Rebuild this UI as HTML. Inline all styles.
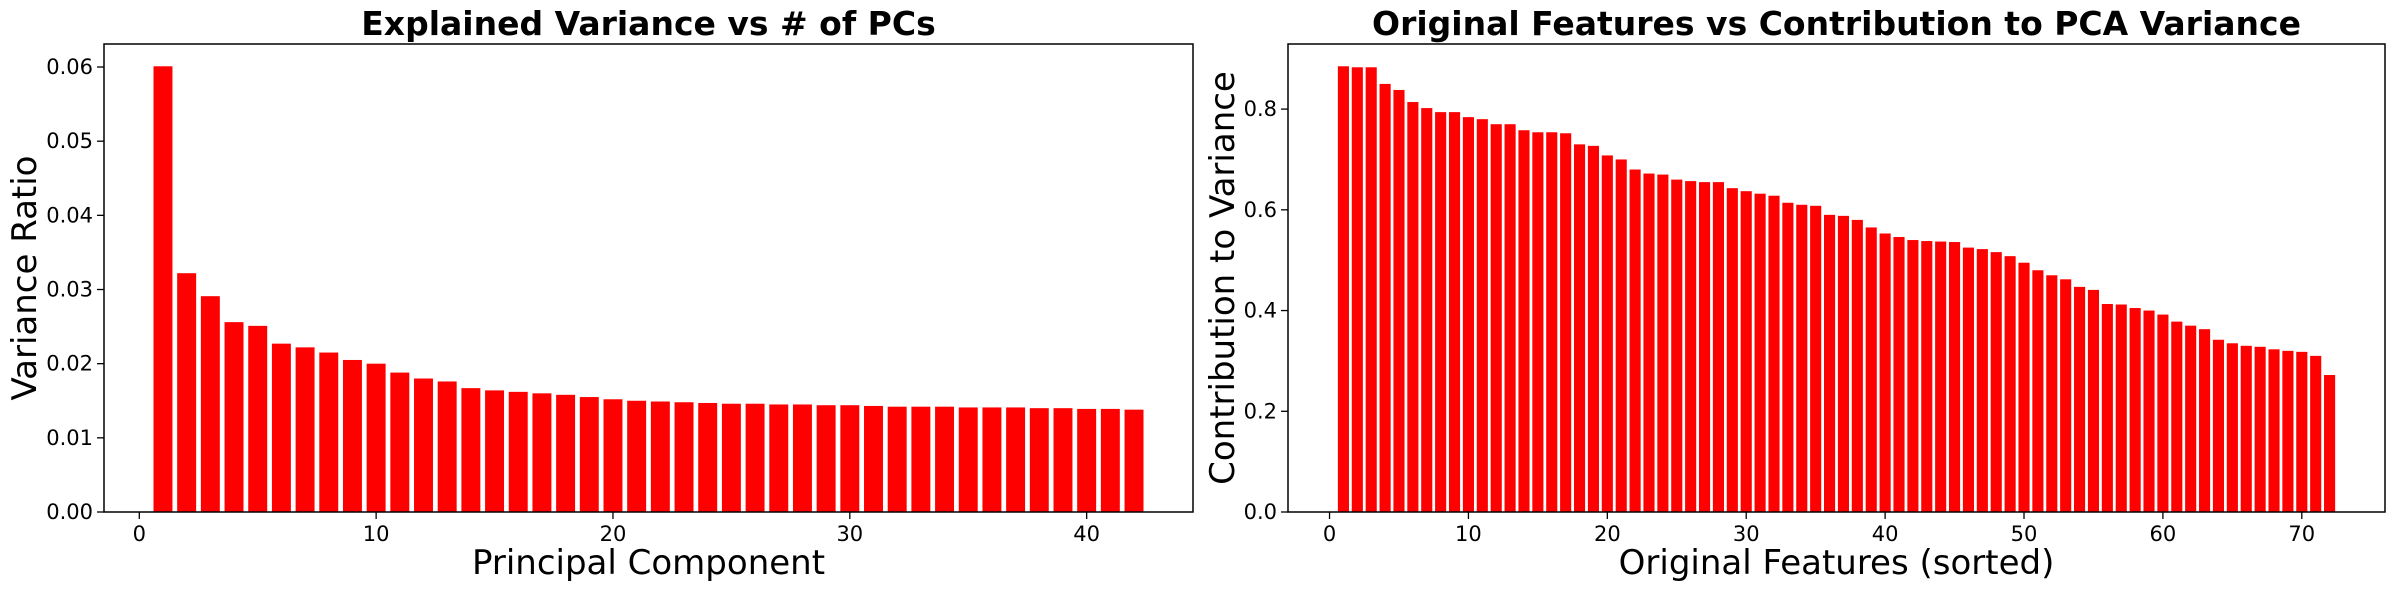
<!DOCTYPE html>
<html><head><meta charset="utf-8"><style>
html,body{margin:0;padding:0;background:#fff}
svg{display:block;font-family:"DejaVu Sans","Liberation Sans",sans-serif}
</style></head><body>
<svg id="c" width="2390" height="590" viewBox="0 0 2390 590"></svg>
<script>
const leftCats = Array.from({length:42},(_, i)=>i+1);
const leftValues = [0.0601,0.0322,0.0291,0.0256,0.0251,0.0227,0.0222,0.0215,0.0205,0.0200,0.0188,0.0180,0.0176,0.0167,0.0164,0.0162,0.0160,0.0158,0.0155,0.0152,0.0150,0.0149,0.0148,0.0147,0.0146,0.0146,0.0145,0.0145,0.0144,0.0144,0.0143,0.0142,0.0142,0.0142,0.0141,0.0141,0.0141,0.0140,0.0140,0.0139,0.0139,0.0138];
const leftYTicks = [0,0.01,0.02,0.03,0.04,0.05,0.06];
const leftYTickLabels = ["0.00","0.01","0.02","0.03","0.04","0.05","0.06"];
const leftXTicks = [0,10,20,30,40];
const rightCats = Array.from({length:72},(_, i)=>i+1);
const rightValues = [0.885,0.883,0.883,0.850,0.838,0.814,0.802,0.794,0.794,0.784,0.780,0.770,0.770,0.758,0.754,0.754,0.752,0.730,0.727,0.708,0.700,0.680,0.672,0.670,0.660,0.657,0.655,0.655,0.643,0.637,0.632,0.628,0.614,0.610,0.608,0.590,0.588,0.580,0.565,0.553,0.546,0.540,0.538,0.537,0.536,0.525,0.522,0.516,0.508,0.495,0.480,0.470,0.462,0.447,0.441,0.413,0.412,0.405,0.400,0.392,0.378,0.370,0.363,0.342,0.335,0.330,0.328,0.323,0.320,0.318,0.310,0.272];
const rightYTicks = [0,0.2,0.4,0.6,0.8];
const rightYTickLabels = ["0.0","0.2","0.4","0.6","0.8"];
const rightXTicks = [0,10,20,30,40,50,60,70];

const NS="http://www.w3.org/2000/svg";
const svg=document.getElementById('c');
function mk(tag,attrs,parent,text){const e=document.createElementNS(NS,tag);for(const k in attrs)e.setAttribute(k,attrs[k]);if(text!==undefined)e.textContent=text;(parent||svg).appendChild(e);return e;}

function chart(o){
  const g=mk('g',{});
  
  
  const n=o.cats.length;
  const x0=o.cats[0]-0.4, x1=o.cats[n-1]+0.4, m=(x1-x0)*0.05;
  const xmin=x0-m, xmax=x1+m;
  const ymax=Math.max(...o.vals)*1.05;
  const X=v=>o.L+(v-xmin)/(xmax-xmin)*(o.R-o.L);
  const Y=v=>o.B-(v/ymax)*(o.B-o.T);
  o.cats.forEach((c,i)=>{
    const r=mk('rect',{x:X(c-0.4),y:Y(o.vals[i]),width:X(c+0.4)-X(c-0.4),height:Y(0)-Y(o.vals[i]),fill:'#ff0000'},g);
    
    
  });
  const f=mk('rect',{x:o.L,y:o.T,width:o.R-o.L,height:o.B-o.T,fill:'none',stroke:'#000','stroke-width':1.5},g);
  
  
  o.yt.forEach((t,i)=>{
    mk('line',{x1:o.L-7,x2:o.L,y1:Y(t),y2:Y(t),stroke:'#000','stroke-width':1.3},g);
    const tx=mk('text',{x:o.L-11,y:Y(t)+7,'text-anchor':'end','font-size':21},g,o.ytl[i]);
    
    
  });
  o.xt.forEach(t=>{
    mk('line',{x1:X(t),x2:X(t),y1:o.B,y2:o.B+7,stroke:'#000','stroke-width':1.3},g);
    const tx=mk('text',{x:X(t),y:o.B+29,'text-anchor':'middle','font-size':21},g,String(t));
    
    
  });
  const ti=mk('text',{x:(o.L+o.R)/2,y:35,'text-anchor':'middle','font-size':33,'font-weight':'bold'},g,o.title);
  
  
  const xl=mk('text',{x:(o.L+o.R)/2,y:574,'text-anchor':'middle','font-size':34},g,o.xlabel);
  
  
  const cy=(o.T+o.B)/2;
  const yl=mk('text',{x:o.yx,y:cy,'text-anchor':'middle','font-size':34,transform:`rotate(-90 ${o.yx} ${cy})`},g,o.ylabel);
  
  
}
chart({name:'explained-variance-chart',L:104,R:1193,T:44,B:512,cats:leftCats,vals:leftValues,yt:leftYTicks,ytl:leftYTickLabels,xt:leftXTicks,title:'Explained Variance vs # of PCs',xlabel:'Principal Component',ylabel:'Variance Ratio',yx:36});
chart({name:'feature-contribution-chart',L:1288,R:2385,T:44,B:512,cats:rightCats,vals:rightValues,yt:rightYTicks,ytl:rightYTickLabels,xt:rightXTicks,title:'Original Features vs Contribution to PCA Variance',xlabel:'Original Features (sorted)',ylabel:'Contribution to Variance',yx:1234});
</script>
</body></html>
